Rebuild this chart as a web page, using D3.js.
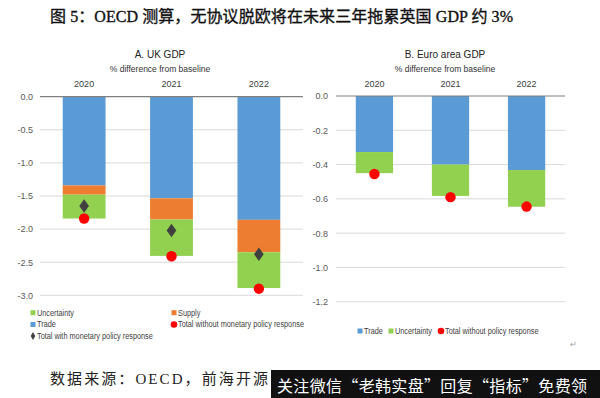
<!DOCTYPE html>
<meta charset="utf-8">
<script src="https://d3js.org/d3.v7.min.js"></script>
<style>
  body { margin: 0; background: #fff; }
  text { font-family: "Liberation Sans", Arial, sans-serif; }
</style>
<div id="chart"></div>
<script>

// data
var years = ["2020", "2021", "2022"];

var ukTrade       = [-1.34, -1.535, -1.86];
var ukSupply      = [-0.14, -0.32, -0.49];
var ukUncertainty = [-0.36, -0.55, -0.54];
var ukTotalNoMon  = [-1.84, -2.41, -2.90];
var ukTotalMon    = [-1.65, -2.02, -2.38];
var ukTicks = [0, -0.5, -1.0, -1.5, -2.0, -2.5, -3.0];

var euTrade       = [-0.327, -0.40, -0.432];
var euUncertainty = [-0.123, -0.183, -0.214];
var euTotal       = [-0.455, -0.59, -0.645];
var euTicks = [0, -0.2, -0.4, -0.6, -0.8, -1.0, -1.2];

var colors = {Trade: "#5b9bd5", Supply: "#ed7d31", Uncertainty: "#92d050"};

var W = 600, H = 398;
var svg = d3.select("#chart").append("svg")
  .attr("width", W).attr("height", H);

var cjk = "'Liberation Serif', 'Noto Sans CJK SC', serif";

// main title
svg.append("text")
  .attr("x", 50).attr("y", 22)
  .attr("textLength", 463).attr("lengthAdjust", "spacing")
  .style("font-family", cjk)
  .style("font-size", "16px")
  .attr("fill", "#111").attr("stroke", "#111").attr("stroke-width", 0.35)
  .text("图 5：OECD 测算，无协议脱欧将在未来三年拖累英国 GDP 约 3%");

function panel(opt) {
  var g = svg.append("g");
  var x = d3.scaleBand().domain(years).range(opt.xr)
    .paddingInner(0.51).paddingOuter(0.26);
  var y = d3.scaleLinear().domain(opt.yd).range(opt.yr);

  // grid lines
  g.selectAll(".grid").data(opt.ticks.filter(function(d) { return d !== 0; }))
    .enter().append("line")
    .attr("x1", opt.xr[0]).attr("x2", opt.xr[1])
    .attr("y1", function(d) { return y(d); }).attr("y2", function(d) { return y(d); })
    .attr("stroke", "#d9d9d9").attr("stroke-width", 1);

  var yAxis = d3.axisLeft(y).tickValues(opt.ticks).tickSize(0).tickPadding(0);
  var ay = g.append("g")
    .attr("transform", "translate(" + opt.labelX + ",0)")
    .call(yAxis);
  ay.select(".domain").remove();
  ay.selectAll("text").attr("fill", "#595959").style("font-size", "9px")
    .attr("dy", "0.32em")
    .text(function(d) { return d3.format(".1f")(d).replace("−", "-"); });

  // stacked bars
  var rows = years.map(function(yr, i) {
    var r = {year: yr};
    opt.series.forEach(function(s) { r[s.name] = s.values[i]; });
    return r;
  });
  var stack = d3.stack().keys(opt.series.map(function(s) { return s.name; }))
    .offset(d3.stackOffsetDiverging);
  g.selectAll(".layer").data(stack(rows)).enter().append("g")
    .attr("fill", function(d) { return colors[d.key]; })
    .selectAll("rect").data(function(d) { return d; })
    .enter().append("rect")
      .attr("x", function(d) { return x(d.data.year); })
      .attr("width", x.bandwidth())
      .attr("y", function(d) { return y(d[1]); })
      .attr("height", function(d) { return y(d[0]) - y(d[1]); });

  // zero line
  g.append("line")
    .attr("x1", opt.xr[0]).attr("x2", opt.xr[1])
    .attr("y1", y(0)).attr("y2", y(0))
    .attr("stroke", "#7f7f7f").attr("stroke-width", 1.2);

  // year labels on top
  var xAxis = d3.axisTop(x).tickSize(0).tickPadding(0);
  var ax = g.append("g").attr("transform", "translate(0," + opt.yearY + ")").call(xAxis);
  ax.select(".domain").remove();
  ax.selectAll("text").attr("fill", "#404040").style("font-size", "9px");

  // markers
  g.selectAll(".dot").data(opt.dots).enter().append("circle")
    .attr("cx", function(d, i) { return x(years[i]) + x.bandwidth() / 2; })
    .attr("cy", function(d) { return y(d); })
    .attr("r", 5.2).attr("fill", "#ff0000");
  if (opt.diamonds) {
    g.selectAll(".dia").data(opt.diamonds).enter().append("path")
      .attr("d", d3.symbol().type(d3.symbolDiamond).size(52))
      .attr("transform", function(d, i) {
        return "translate(" + (x(years[i]) + x.bandwidth() / 2) + "," + y(d) + ") scale(1.25,1)";
      })
      .attr("fill", "#404040");
  }

  // titles
  g.append("text").attr("x", opt.titleX).attr("y", 58).attr("text-anchor", "middle")
    .style("font-size", "10px").attr("fill", "#222").text(opt.title);
  g.append("text").attr("x", opt.titleX).attr("y", 72).attr("text-anchor", "middle")
    .style("font-size", "8.5px").attr("fill", "#333").text("% difference from baseline");

  return {g: g, x: x, y: y};
}

panel({
  xr: [40, 303], yd: [0, -3], yr: [96.7, 295.3], ticks: ukTicks,
  labelX: 33, yearY: 87, titleX: 160, title: "A. UK GDP",
  series: [{name: "Trade", values: ukTrade}, {name: "Supply", values: ukSupply},
           {name: "Uncertainty", values: ukUncertainty}],
  dots: ukTotalNoMon, diamonds: ukTotalMon
});

panel({
  xr: [336, 565], yd: [0, -1.2], yr: [96, 301.7], ticks: euTicks,
  labelX: 328, yearY: 87, titleX: 445, title: "B. Euro area GDP",
  series: [{name: "Trade", values: euTrade}, {name: "Uncertainty", values: euUncertainty}],
  dots: euTotal
});

// legends (labels squeezed a bit, the original uses a narrow face)
function legItem(px, py, kind, label, color) {
  if (kind === "sq") {
    svg.append("rect").attr("x", px - 2.5).attr("y", py - 2.5).attr("width", 5).attr("height", 5).attr("fill", color);
  } else if (kind === "dot") {
    svg.append("circle").attr("cx", px).attr("cy", py).attr("r", 3.3).attr("fill", color);
  } else {
    svg.append("path").attr("d", d3.symbol().type(d3.symbolDiamond).size(18)())
      .attr("transform", "translate(" + px + "," + py + ")").attr("fill", color);
  }
  var t = svg.append("text").attr("x", px + 4).attr("y", py).attr("dy", "0.35em")
    .style("font-size", "8.5px").attr("fill", "#404040").text(label);
  var w = t.node().getComputedTextLength();
  t.attr("textLength", w * 0.86).attr("lengthAdjust", "spacingAndGlyphs");
}
legItem(33, 312.7, "sq", "Uncertainty", colors.Uncertainty);
legItem(174, 312.7, "sq", "Supply", colors.Supply);
legItem(33, 324.5, "sq", "Trade", colors.Trade);
legItem(174, 324.5, "dot", "Total without monetary policy response", "#ff0000");
legItem(33, 336, "dia", "Total with monetary policy response", "#404040");

legItem(360, 331, "sq", "Trade", colors.Trade);
legItem(391, 331, "sq", "Uncertainty", colors.Uncertainty);
legItem(441, 331, "dot", "Total without policy response", "#ff0000");

svg.append("text").attr("x", 570).attr("y", 347).style("font-size", "8px").attr("fill", "#999").text("↵");

// source line, partly hidden by the banner
svg.append("text")
  .attr("x", 50).attr("y", 384)
  .attr("textLength", 218).attr("lengthAdjust", "spacing")
  .style("font-family", cjk)
  .style("font-size", "15px").attr("fill", "#222")
  .text("数据来源：OECD，前海开源");

svg.append("rect").attr("x", 271).attr("y", 370).attr("width", 329).attr("height", 28).attr("fill", "#111");
svg.append("text")
  .attr("x", 277).attr("y", 392)
  .attr("textLength", 310).attr("lengthAdjust", "spacing")
  .style("font-family", "'Noto Sans CJK SC', sans-serif")
  .style("font-size", "16px").attr("fill", "#fff")
  .text("关注微信“老韩实盘”回复“指标”免费领");

</script>
